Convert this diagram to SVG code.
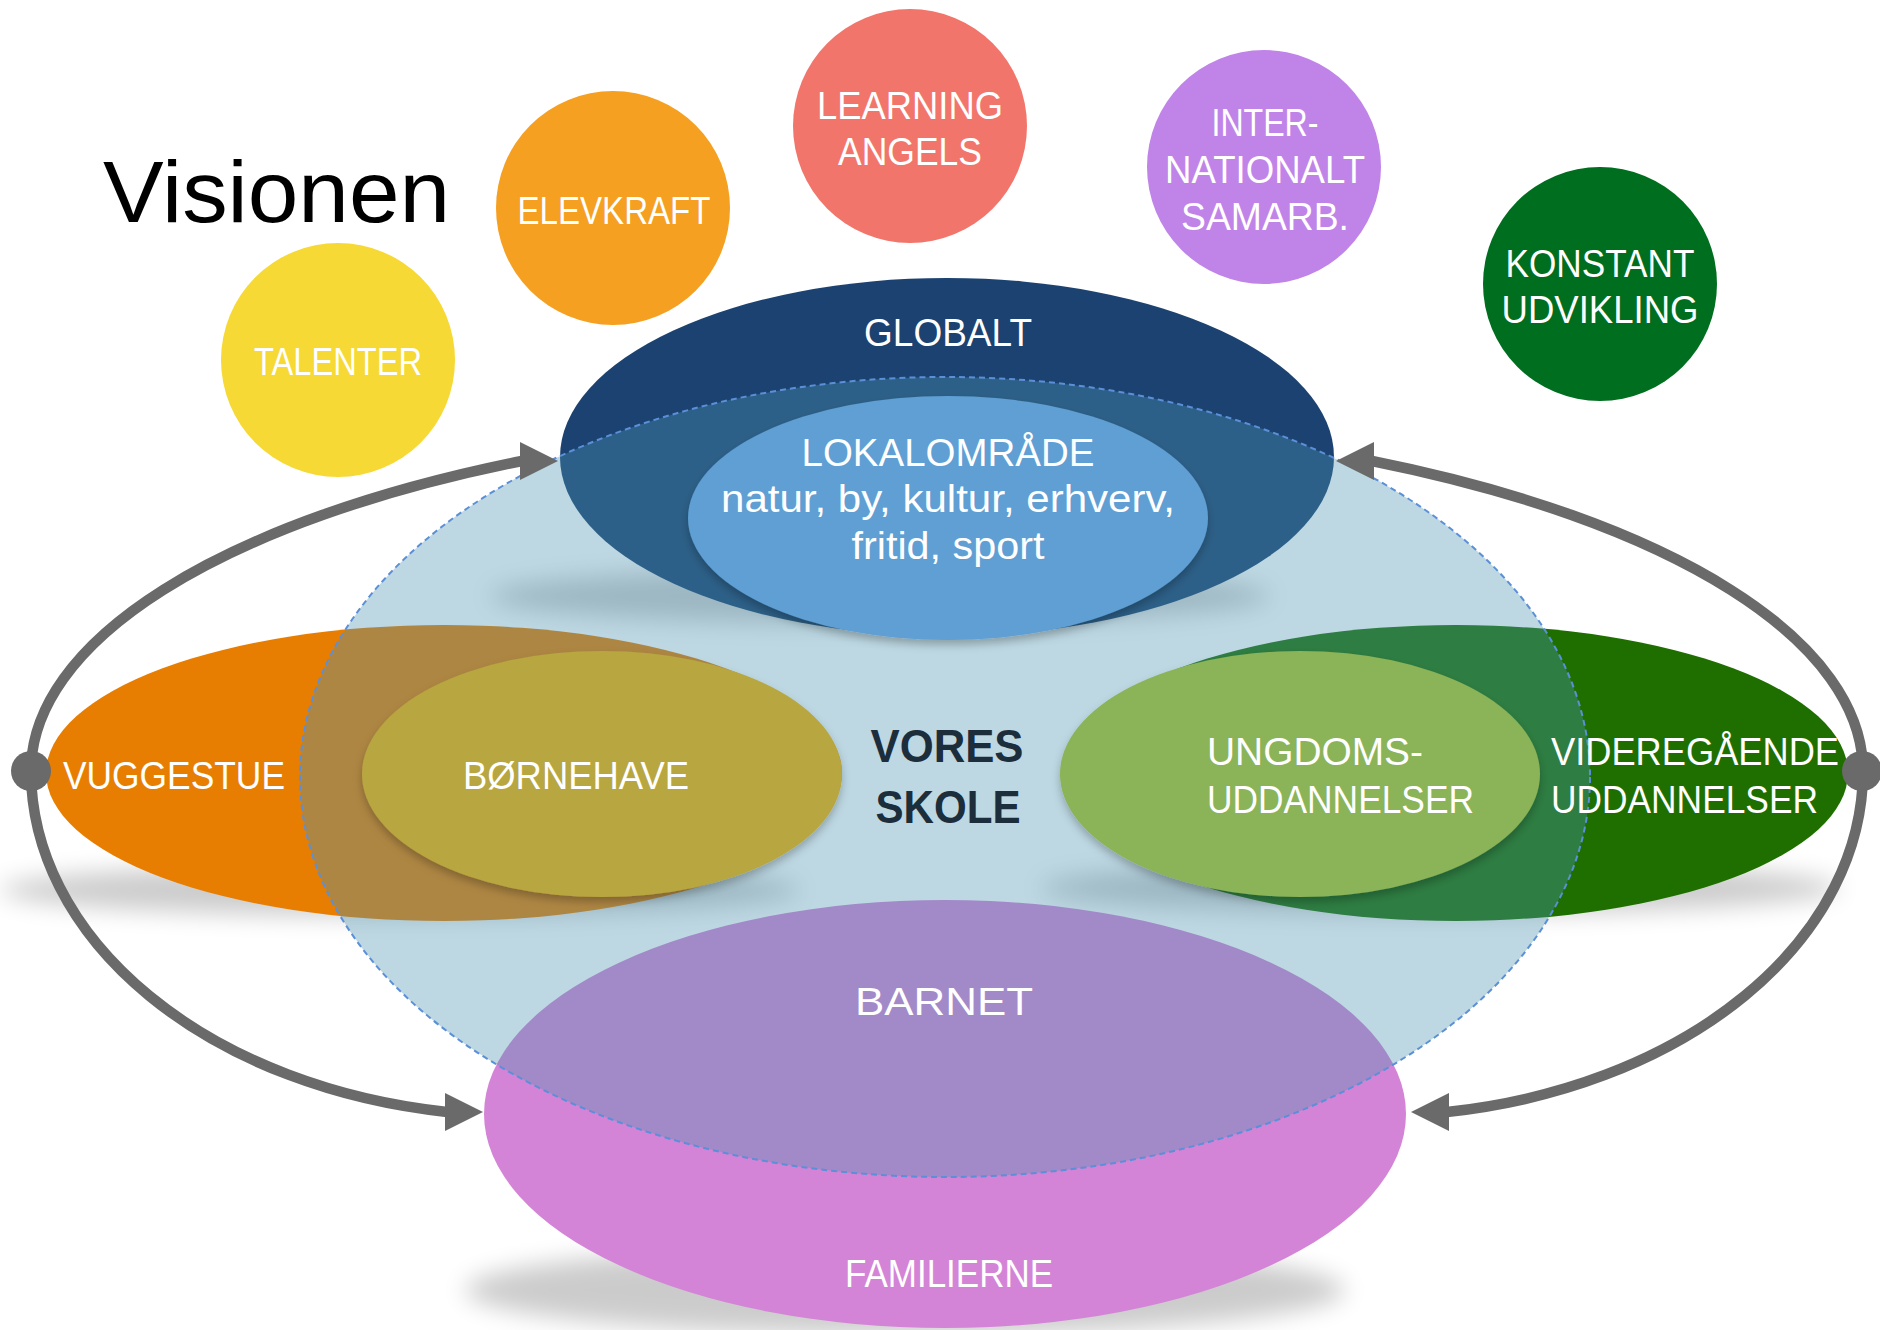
<svg xmlns="http://www.w3.org/2000/svg" width="1880" height="1330" viewBox="0 0 1880 1330">
<defs>
<style>
text { font-family: "Liberation Sans", Arial, sans-serif; }
.lbl { fill:#ffffff; font-size:38px; text-anchor:middle; }
.lbs { fill:#ffffff; font-size:38px; text-anchor:start; }
.dark { fill:#1c2d3b; font-size:47px; font-weight:bold; text-anchor:middle; }
.arc { fill:none; stroke:#6a6a6a; stroke-width:10.5; }
.dot { fill:#6a6a6a; }
.shadow { fill:#000000; opacity:0.2; filter:url(#blur); }
.bubble { stroke:none; }
</style>
<filter id="blur" x="-30%" y="-150%" width="160%" height="400%"><feGaussianBlur stdDeviation="12"/></filter>
<filter id="ds" x="-10%" y="-10%" width="120%" height="130%"><feDropShadow dx="0" dy="5" stdDeviation="4" flood-color="#000" flood-opacity="0.25"/></filter>
<marker id="arrowR" markerUnits="userSpaceOnUse" viewBox="0 0 38 38" markerWidth="38" markerHeight="38" refX="2" refY="19" orient="0"><path d="M0,0 L38,19 L0,38 Z" fill="#6a6a6a"/></marker>
<marker id="arrowL" markerUnits="userSpaceOnUse" viewBox="0 0 38 38" markerWidth="38" markerHeight="38" refX="2" refY="19" orient="180"><path d="M0,0 L38,19 L0,38 Z" fill="#6a6a6a"/></marker>
</defs>
<rect width="1880" height="1330" fill="#ffffff"/>

<g id="shadows">
<ellipse class="shadow" cx="880" cy="596" rx="390" ry="28"/>
<ellipse class="shadow" cx="400" cy="890" rx="400" ry="26"/>
<ellipse class="shadow" cx="1440" cy="888" rx="400" ry="26"/>
<ellipse class="shadow" cx="905" cy="1290" rx="440" ry="45"/>
</g>

<g id="globalt">
<ellipse cx="947" cy="457" rx="387" ry="179" fill="#1b4270"/>
<text class="lbl" x="948" y="346" textLength="168" lengthAdjust="spacingAndGlyphs">GLOBALT</text>
</g>

<g id="vuggestue">
<ellipse cx="444" cy="773" rx="398" ry="148" fill="#e77e02"/>
<text class="lbs" x="63" y="789" textLength="222" lengthAdjust="spacingAndGlyphs">VUGGESTUE</text>
</g>

<g id="videregaaende">
<ellipse cx="1456" cy="773" rx="392" ry="148" fill="#1e6f00"/>
</g>

<g id="familierne">
<ellipse cx="945" cy="1114" rx="461" ry="214" fill="#d484d6"/>
<text class="lbl" x="949" y="1287" font-size="39" textLength="208" lengthAdjust="spacingAndGlyphs">FAMILIERNE</text>
</g>

<g id="vores-skole">
<ellipse cx="945" cy="777" rx="645" ry="400" fill="#4b96b4" fill-opacity="0.37" stroke="#5b8fd8" stroke-width="2" stroke-dasharray="6 4"/>
<text class="dark" x="947" y="762" textLength="153" lengthAdjust="spacingAndGlyphs">VORES</text>
<text class="dark" x="948" y="823" textLength="145" lengthAdjust="spacingAndGlyphs">SKOLE</text>
</g>

<g id="videregaaende-label">
<text class="lbs" x="1551" y="765" textLength="288" lengthAdjust="spacingAndGlyphs">VIDEREGÅENDE</text>
<text class="lbs" x="1551" y="813" textLength="267" lengthAdjust="spacingAndGlyphs">UDDANNELSER</text>
</g>

<g id="barnet">
<text class="lbl" x="944" y="1015" font-size="47" textLength="178" lengthAdjust="spacingAndGlyphs">BARNET</text>
</g>

<g id="lokalomraade">
<ellipse cx="948" cy="518" rx="260" ry="122" fill="#5e9fd3" filter="url(#ds)"/>
<text class="lbl" x="948" y="466" textLength="293" lengthAdjust="spacingAndGlyphs">LOKALOMRÅDE</text>
<text class="lbl" x="948" y="512" font-size="44" textLength="454" lengthAdjust="spacingAndGlyphs">natur, by, kultur, erhverv,</text>
<text class="lbl" x="948" y="559" font-size="44" textLength="193" lengthAdjust="spacingAndGlyphs">fritid, sport</text>
</g>

<g id="boernehave">
<ellipse cx="602" cy="774" rx="240" ry="123" fill="#b8a640" filter="url(#ds)"/>
<text class="lbs" x="463" y="789" textLength="226" lengthAdjust="spacingAndGlyphs" fill="#f6f2dc">BØRNEHAVE</text>
</g>

<g id="ungdoms">
<ellipse cx="1300" cy="774" rx="240" ry="123" fill="#8bb358" filter="url(#ds)"/>
<text class="lbs" x="1207" y="765" textLength="216" lengthAdjust="spacingAndGlyphs">UNGDOMS-</text>
<text class="lbs" x="1207" y="813" textLength="267" lengthAdjust="spacingAndGlyphs">UDDANNELSER</text>
</g>

<g id="talenter">
<circle class="bubble" cx="338" cy="360" r="117" fill="#f6d935"/>
<text class="lbl" x="338" y="375" textLength="168" lengthAdjust="spacingAndGlyphs">TALENTER</text>
</g>

<g id="elevkraft">
<circle class="bubble" cx="613" cy="208" r="117" fill="#f5a021"/>
<text class="lbl" x="614" y="224" font-size="39" textLength="193" lengthAdjust="spacingAndGlyphs">ELEVKRAFT</text>
</g>

<g id="learning-angels">
<circle class="bubble" cx="910" cy="126" r="117" fill="#f2756b"/>
<text class="lbl" x="910" y="119" textLength="186" lengthAdjust="spacingAndGlyphs">LEARNING</text>
<text class="lbl" x="910" y="165" textLength="144" lengthAdjust="spacingAndGlyphs">ANGELS</text>
</g>

<g id="internationalt">
<circle class="bubble" cx="1264" cy="167" r="117" fill="#c084e8"/>
<text class="lbl" x="1265" y="136" textLength="107" lengthAdjust="spacingAndGlyphs">INTER-</text>
<text class="lbl" x="1265" y="183" textLength="200" lengthAdjust="spacingAndGlyphs">NATIONALT</text>
<text class="lbl" x="1265" y="230" textLength="168" lengthAdjust="spacingAndGlyphs">SAMARB.</text>
</g>

<g id="konstant-udvikling">
<circle class="bubble" cx="1600" cy="284" r="117" fill="#006e1f"/>
<text class="lbl" x="1600" y="277" textLength="189" lengthAdjust="spacingAndGlyphs">KONSTANT</text>
<text class="lbl" x="1600" y="323" textLength="197" lengthAdjust="spacingAndGlyphs">UDVIKLING</text>
</g>

<g id="connectors">
<path class="arc" d="M31,771 A916,350 0 0 1 522,461" marker-end="url(#arrowR)"/>
<path class="arc" d="M31,771 A489,345 0 0 0 447,1112" marker-end="url(#arrowR)"/>
<path class="arc" d="M1863,771 A916,350 0 0 0 1372,461" marker-end="url(#arrowL)"/>
<path class="arc" d="M1863,771 A489,345 0 0 1 1447,1112" marker-end="url(#arrowL)"/>
<circle class="dot" cx="31" cy="771" r="20"/>
<circle class="dot" cx="1862" cy="771" r="20"/>
</g>

<g id="title">
<text x="103" y="222" font-size="88" fill="#000000" textLength="347" lengthAdjust="spacingAndGlyphs">Visionen</text>
</g>
</svg>
